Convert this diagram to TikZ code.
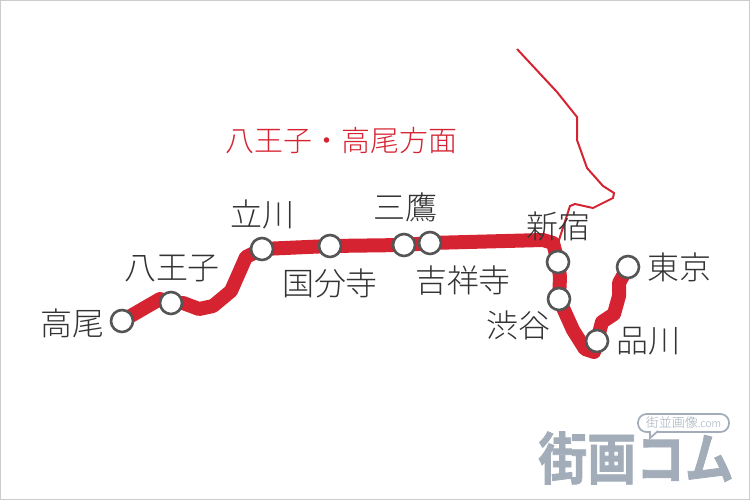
\documentclass[tikz,border=0pt]{standalone}
\usepackage{fontspec}
\newfontfamily\cjk{Noto Sans CJK JP Light}
\newfontfamily\cjklogo[FakeBold=1.5]{Noto Sans CJK JP Bold}
\usetikzlibrary{positioning,backgrounds}
\definecolor{linered}{HTML}{D52331}
\definecolor{stgray}{HTML}{555555}
\definecolor{txtgray}{HTML}{333333}
\definecolor{logogray}{HTML}{A2ADB9}

\begin{document}
\begin{tikzpicture}[
    x=.02cm, y=-.02cm,
    stn/.style={
        circle,
        draw=stgray,
        fill=white,
        line width=1.5pt,
        inner sep=0pt,
        minimum size=.44cm
        },
    lbl/.style={
        font=\cjk\fontsize{18.2}{18}\selectfont,
        text=txtgray,
        inner sep=0pt
        },
    route/.style={
        draw=linered,
        line width=.28cm,
        line join=round
        },
]
\useasboundingbox (0,0) rectangle (750,500);
\draw[black!20, line width=.02cm] (.5,.5) rectangle (749.5,499.5);

\node[stn](takao) at (122,321){};
\node[stn](hachioji) at (171,303){};
\node[stn](tachikawa) at (262,249){};
\node[stn](kokubunji) at (330,246){};
\node[stn](mitaka) at (404,245){};
\node[stn](kichijoji) at (430,243){};
\node[stn](shinjuku) at (558,262){};
\node[stn](shibuya) at (559,299){};
\node[stn](shinagawa) at (597,341){};
\node[stn](tokyo) at (628,267){};

\node[lbl, left=.1cm of takao, yshift=-.04cm](ltakao){高尾};
\node[lbl, above=.16cm of hachioji, xshift=.02cm](lhachioji){八王子};
\node[lbl, above=.14cm of tachikawa](ltachikawa){立川};
\node[lbl, below=.2cm of kokubunji](lkokubunji){国分寺};
\node[lbl, above=.2cm of mitaka, xshift=.02cm](lmitaka){三鷹};
\node[lbl, below=.2cm of kichijoji, xshift=.66cm](lkichijoji){吉祥寺};
\node[lbl, above=.16cm of shinjuku](lshinjuku){新宿};
\node[lbl, below left=.05cm and -.01cm of shibuya](lshibuya){渋谷};
\node[lbl, right=.14cm of shinagawa](lshinagawa){品川};
\node[lbl, right=.14cm of tokyo](ltokyo){東京};

\node[lbl, text=linered, font=\cjk\fontsize{16.5}{17}\selectfont](title) at (341.5,141){八王子・高尾方面};

% route
\begin{scope}[on background layer]
\draw[route] (takao.center) -- (160,299) -- (hachioji.center) -- (183,303) -- (199,309) -- (213,306)
    -- (231,291) -- (246,257) -- (tachikawa.center) -- (kokubunji.center) -- (mitaka.center)
    -- (kichijoji.center) -- (543,240) -- (553,243) -- (shinjuku.center) -- (560,277)
    -- (shibuya.center) -- (573,330) -- (585,349) -- (594,352) -- (shinagawa.center)
    -- (602,322) -- (614,314) -- (619,296) -- (619,283) -- (tokyo.center);
\draw[linered, line width=.04cm] (517,49) -- (557,92) -- (577,117) -- (577,140) -- (587,168)
    -- (603,186) -- (614,193) -- (613,198) -- (593,208) -- (575,204) -- (570,206) -- (558,243);
\end{scope}

% logo
\coordinate (logopos) at (538,458);
\node[inner sep=0pt, text=logogray, font=\cjklogo\fontsize{27.8}{29}\selectfont, anchor=west, yscale=1.15, transform shape](logo) at (logopos){街画コム};
\node[draw=logogray, line width=.035cm, fill=white, rounded corners=.17cm, minimum width=1.82cm, minimum height=.36cm, inner sep=0pt, text=logogray, font=\cjk\fontsize{7.4}{8}\selectfont](bubble) at (683.5,423){街並画像{\fontsize{6}{7}\selectfont.com}};
\draw[logogray, line width=.035cm, fill=white] (650,431) -- (650,438) -- (658,431);
\end{tikzpicture}
\end{document}
